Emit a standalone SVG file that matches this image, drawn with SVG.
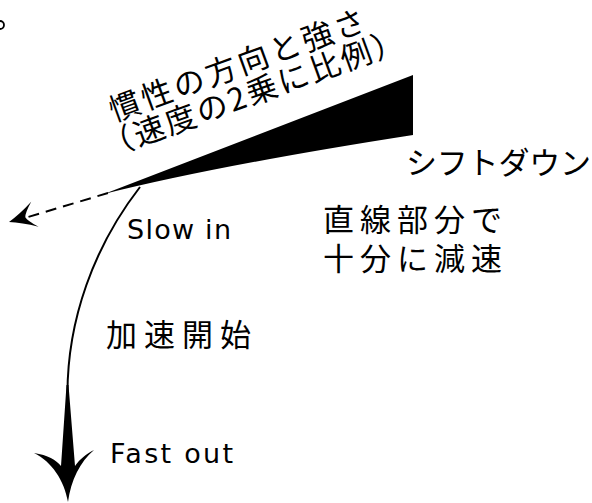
<svg xmlns="http://www.w3.org/2000/svg" width="592" height="503" viewBox="0 0 592 503">
<style>
.jp{font-family:"Noto Sans CJK JP","Noto Sans",sans-serif;font-size:31px;fill:#000}
.rot{font-size:31px}
.en{font-family:"DejaVu Sans","Liberation Sans",sans-serif;font-size:27px;fill:#000}
.ln{fill:none;stroke:#000;stroke-width:2}
.fill{fill:#000;stroke:none}
</style>
<defs>
<path id="stealth" d="M0,0 Q-12,-4 -27,-13 Q-18,-4 -17,0 Q-18,4 -27,13 Q-12,4 0,0Z"/>
</defs>
<rect width="592" height="503" fill="#fff"/>
<g id="mark"><circle cx="0" cy="25" r="4" fill="none" stroke="#000" stroke-width="1.8"/></g>
<g id="wedge"><path class="fill" d="M104,194 L413,75 L413,135 Q220,165 104,194Z"/></g>
<g id="connectors">
<path class="ln" d="M108,193 L28,217" stroke-dasharray="11,7"/>
<use href="#stealth" class="fill" transform="translate(9,222) rotate(163.5)"/>
<path class="ln" d="M140,187 C95,245 66,320 67.5,400"/>
<path class="fill" d="M68,502 C64,480 52,462 34,453 C48,455 56,460 61,466 L66.5,385 L68.5,385 L75,466 C80,459 86,454 94,450 C80,462 71,480 68,502Z"/>
</g>
<g id="label-inertia">
<text class="jp rot" x="114" y="122" transform="rotate(-20 114 122)" textLength="270" lengthAdjust="spacing">慣性の方向と強さ</text>
<text class="jp rot" x="107" y="158" transform="rotate(-20 107 158)" textLength="318" lengthAdjust="spacing">（速度の2乗に比例）</text>
</g>
<g id="label-shiftdown"><text class="jp" x="406" y="174" textLength="185" lengthAdjust="spacing">シフトダウン</text></g>
<g id="label-decel">
<text class="jp" x="323" y="231" textLength="179" lengthAdjust="spacing">直線部分で</text>
<text class="jp" x="323" y="270" textLength="179" lengthAdjust="spacing">十分に減速</text>
</g>
<g id="label-slowin"><text class="en" x="127" y="239" textLength="104" lengthAdjust="spacing">Slow in</text></g>
<g id="label-accel"><text class="jp" x="106" y="346" textLength="145" lengthAdjust="spacing">加速開始</text></g>
<g id="label-fastout"><text class="en" x="110" y="463" textLength="123" lengthAdjust="spacing">Fast out</text></g>
</svg>
